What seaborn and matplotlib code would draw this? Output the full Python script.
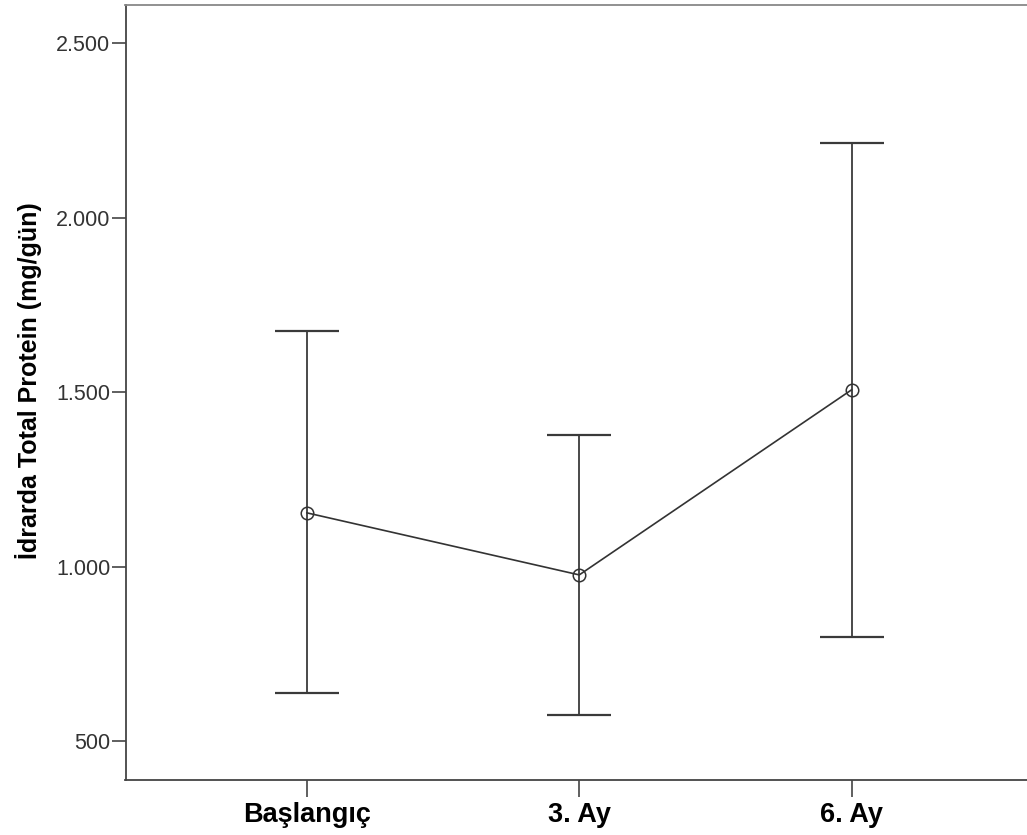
import matplotlib
matplotlib.use("Agg")
import matplotlib.pyplot as plt
import seaborn as sns
import pandas as pd
from matplotlib.ticker import FuncFormatter, FixedLocator

categories = ["Başlangıç", "3. Ay", "6. Ay"]
means = [1154, 976, 1507]
ci_lower = [636, 575, 799]
ci_upper = [1675, 1377, 2215]
y_ticks = [500, 1000, 1500, 2000, 2500]
y_label = "İdrarda Total Protein (mg/gün)"

sns.set_theme(style="white")
plt.rcParams['font.family'] = ['Liberation Sans', 'DejaVu Sans']

fig = plt.figure(figsize=(10.27, 8.35), dpi=100)
ax = fig.add_axes([125.5/1027, 1 - 780/835, (1027 - 125.5)/1027, (780 - 5.3)/835])

df = pd.DataFrame({"cat": categories, "mean": means})
sns.pointplot(data=df, x="cat", y="mean", errorbar=None, color="#333333",
              markers="o", markersize=9, markerfacecolor="none",
              markeredgewidth=1.1, linewidth=1.2, ax=ax)

lo = [m - l for m, l in zip(means, ci_lower)]
hi = [u - m for m, u in zip(means, ci_upper)]
ax.errorbar(range(len(categories)), means, yerr=[lo, hi], fmt="none",
            ecolor="#3a3a3a", elinewidth=1.3, capsize=22.7, capthick=1.6, zorder=1)

ax.set_xlim(-0.665, 2.643)
ax.set_ylim(388, 2609)
ax.yaxis.set_major_locator(FixedLocator(y_ticks))
ax.yaxis.set_major_formatter(FuncFormatter(lambda v, p: f"{int(v):,}".replace(",", ".")))

ax.set_xlabel("")
ax.set_ylabel(y_label, fontsize=18, fontweight="bold", color="black")
ax.yaxis.set_label_coords(-0.0926, 0.516)

for side in ["left", "bottom", "top"]:
    ax.spines[side].set_visible(True)
    ax.spines[side].set_color("#444444")
    ax.spines[side].set_linewidth(1.3)
ax.spines["top"].set_color("#888888")
ax.spines["right"].set_visible(False)

ax.tick_params(axis="y", which="major", left=True, length=10, width=1.2, color="#444444",
               labelsize=15.5, labelcolor="#333333", pad=1)
ax.tick_params(axis="x", which="major", bottom=True, length=12, width=1.2, color="#444444",
               labelsize=19.5, labelcolor="black", pad=4)
for lbl in ax.get_xticklabels():
    lbl.set_fontweight("bold")

fig.savefig("out.png", dpi=100, facecolor="white")
